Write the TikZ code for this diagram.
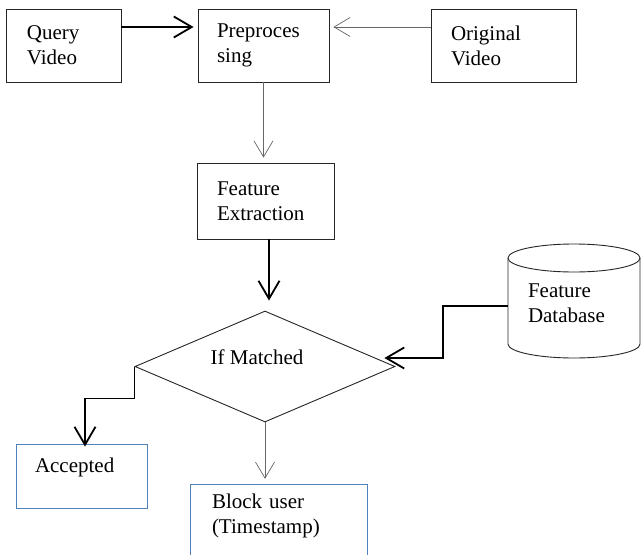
\documentclass[tikz,border=0pt]{standalone}
\usepackage{fontspec}
\setmainfont{Liberation Serif}
\usetikzlibrary{arrows.meta,shapes.geometric}

\definecolor{boxblue}{RGB}{79,129,189}

\begin{document}
\begin{tikzpicture}[x=1pt, y=-1pt,
    font=\fontsize{21}{25}\selectfont,
    box/.style={draw=black!85, line width=0.9pt, align=left, inner ysep=2pt, minimum height=73pt},
    bluebox/.style={draw=boxblue, line width=0.9pt, align=left, inner ysep=2pt},
    blueline/.style={draw=boxblue, line width=0.9pt},
    dbline/.style={draw=black!85, line width=0.9pt},
    decision/.style={draw=black!85, line width=0.9pt, shape=diamond, aspect=2.3, inner sep=0pt, minimum width=260pt, minimum height=111pt},
    heavyarrow/.style={line width=1.8pt, -{Straight Barb[length=18pt, width=21pt]}},
    thinarrow/.style={line width=0.7pt, draw=black!60, -{Straight Barb[length=16pt, width=19pt]}}
]

% --- Rahmen ---
\path[use as bounding box, fill=white] (0,0) rectangle (641,555);

% --- obere Reihe ---
\node[box, text width=73pt, inner xsep=21pt] (query) at (63.5,45.5) {Query\\Video};
\node[box, text width=93pt, inner xsep=19pt] (prep) at (263.5,45.5) {Preproces\\sing};
\node[box, text width=105pt, inner xsep=20pt] (orig) at (503.5,45.5) {Original\\Video};

% --- Merkmale ---
\node[box, text width=97pt, inner xsep=20pt, minimum height=76pt] (feat) at (265.5,201) {Feature\\Extraction};

% --- Entscheidung ---
\node[decision, label={[name=matchtext, xshift=-8pt, yshift=9.5pt]center:If Matched}] (match) at (265,366.5) {};

% --- Datenbank (Zylinder) ---
\node[text width=92pt, inner xsep=20pt, align=left] (db) at (574,303) {Feature\\Database};
\draw[dbline] (574,258) ellipse [x radius=66, y radius=14];
\draw[dbline] (508,258) -- (508,344) arc[start angle=180, end angle=0, x radius=66, y radius=14] -- (640,258);

% --- Ergebnisse ---
\node[bluebox, text width=93pt, inner xsep=19pt, minimum height=64pt] (acc) at (81.5,476) {Accepted\\[-3pt]\phantom{A}};
\node[text width=134pt, inner xsep=21pt, inner ysep=2pt, align=left, minimum height=62pt] (blk) at (279,516) {Block user\\(Timestamp)};
\draw[blueline] ([yshift=-20pt]blk.south west) -- (blk.north west) -- (blk.north east) -- ([yshift=-20pt]blk.south east);

% --- Pfeile ---
\draw[heavyarrow, shorten >=4pt] ([yshift=18.5pt]query.east) -- ([yshift=18.5pt]prep.west);
\draw[thinarrow, shorten >=4pt] ([yshift=18.5pt]orig.west) -- ([yshift=18.5pt]prep.east);
\draw[thinarrow, shorten >=5pt] (prep.south) -- (prep.south |- feat.north);
\draw[heavyarrow, shorten >=10pt] ([xshift=3.5pt]feat.south) -- ([xshift=3.5pt]feat.south |- match.north);
\draw[heavyarrow] ([yshift=-3pt]db.west) -- ++(-65,0) |- ([xshift=-11pt, yshift=8.5pt]match.east);
\draw[heavyarrow] (match.west) -- ++(0,32) -| ([xshift=3.5pt, yshift=-3pt]acc.north);
\draw[thinarrow, shorten >=6pt] (match.south) -- (match.south |- blk.north);

\end{tikzpicture}
\end{document}
